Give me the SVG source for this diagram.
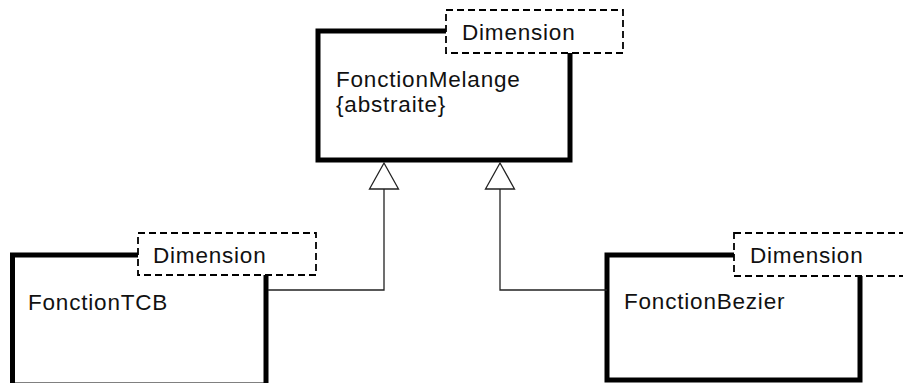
<svg xmlns="http://www.w3.org/2000/svg" width="903" height="383" viewBox="0 0 903 383">
<style>
.cls{fill:#fff;stroke:#000;stroke-width:5}
.dim{fill:#fff;stroke:#000;stroke-width:1.8;stroke-dasharray:7,4}
.t{font-family:"Liberation Sans",Arial,sans-serif;font-size:22.5px;letter-spacing:0.8px;fill:#111}
.ln{fill:none;stroke:#222;stroke-width:1.3}
.tri{fill:#fff;stroke:#222;stroke-width:1.3}
</style>
<rect width="903" height="383" fill="#fff"/>
<g id="FonctionMelange">
<rect class="cls" x="318" y="31" width="252" height="129"/>
<rect class="dim" x="446" y="10" width="177" height="43"/>
<text class="t" x="462" y="40">Dimension</text>
<text class="t" x="336" y="87">FonctionMelange</text>
<text class="t" x="336" y="112">{abstraite}</text>
</g>
<g id="FonctionTCB">
<rect class="cls" x="12.5" y="255" width="253.5" height="130"/>
<rect class="dim" x="138" y="233" width="178" height="42"/>
<text class="t" x="153" y="263">Dimension</text>
<text class="t" x="28" y="310">FonctionTCB</text>
</g>
<g id="FonctionBezier">
<rect class="cls" x="607" y="255" width="253" height="125"/>
<rect class="dim" x="734" y="233" width="180" height="43"/>
<text class="t" x="750" y="263">Dimension</text>
<text class="t" x="624" y="309">FonctionBezier</text>
</g>
<g id="connectors">
<path class="ln" d="M268,290 H384 V189"/>
<polygon class="tri" points="384,163 369.5,189 398.5,189"/>
<path class="ln" d="M607,290 H500 V189"/>
<polygon class="tri" points="500,163 485.5,189 514.5,189"/>
</g>
</svg>
